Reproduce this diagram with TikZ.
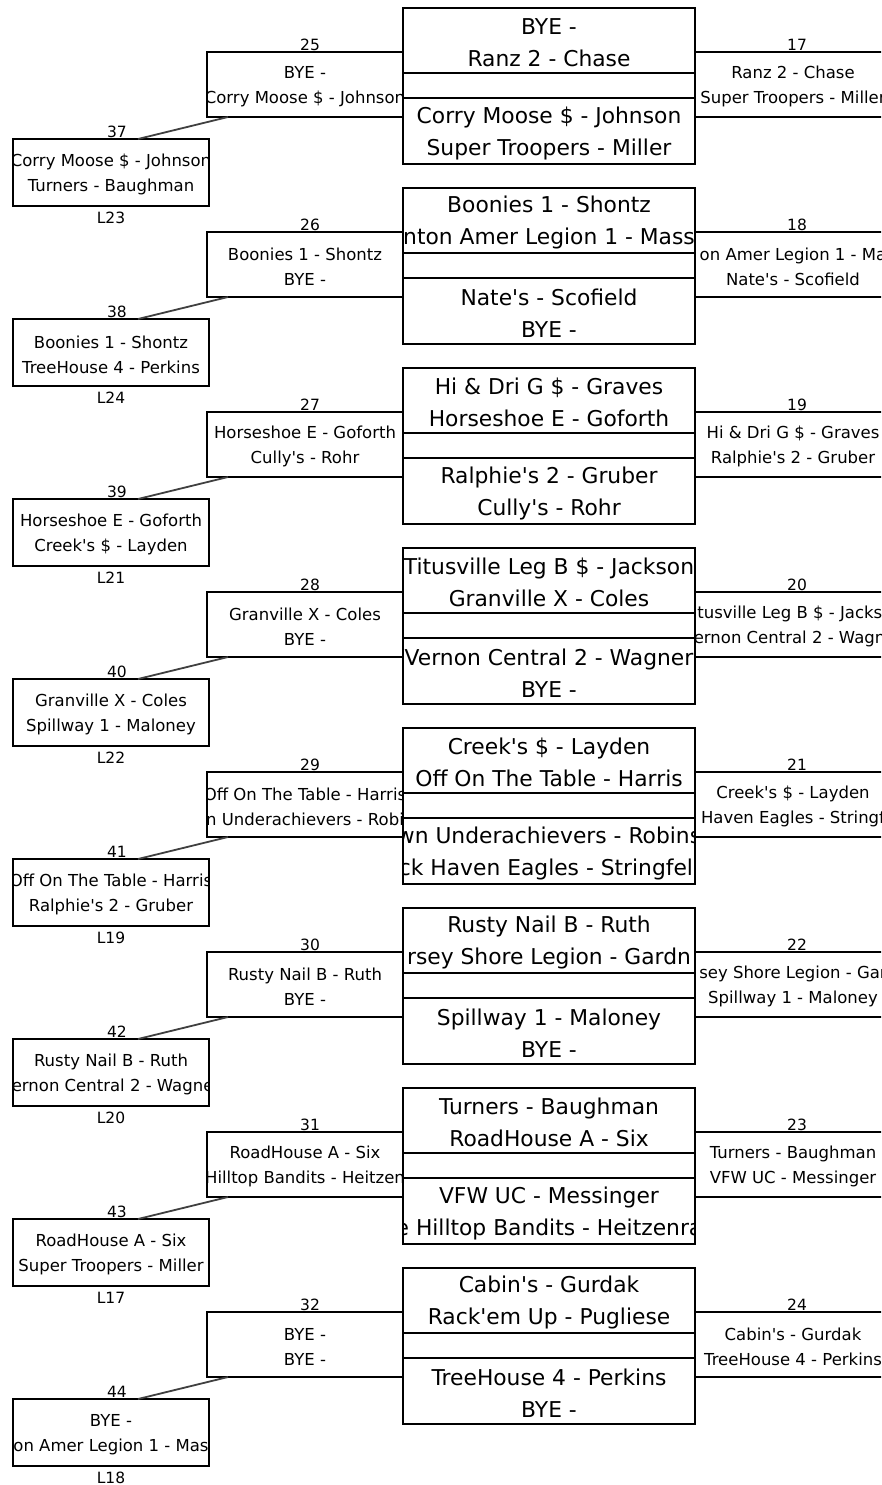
\documentclass[tikz,border=0pt]{standalone}
\usepackage{fontspec}
\setmainfont{DejaVu Sans}[Ligatures=TeXOff]
\usetikzlibrary{positioning}
\begin{document}
\begin{tikzpicture}[x=1pt,y=-1pt,
	cadre/.style={draw,line width=2pt,inner sep=0pt,outer sep=0pt},
	grand/.style={cadre,minimum width=292pt,minimum height=65pt},
	petit/.style={cadre,minimum width=196pt,minimum height=65pt},
	gtexte/.style n args={3}{path picture={\node[font=\fontsize{21.8}{32}\selectfont,align=center,inner sep=0pt] (#1) at ([yshift=-2pt]path picture bounding box.center) {#2\\#3};}},
	ptexte/.style n args={3}{path picture={\node[font=\fontsize{16.5}{25}\selectfont,align=center,inner sep=0pt] (#1) at ([yshift=-2pt]path picture bounding box.center) {#2\\#3};}},
	num/.style={font=\fontsize{15.5}{17}\selectfont,inner sep=1pt},
	lien/.style={black!75,line width=1.8pt}]
	\useasboundingbox (0,0) rectangle (881,1485);
	\clip (0,0) rectangle (881,1485);
	% match 1
	\node[grand,gtexte={th1}{BYE -}{Ranz 2 - Chase}] (h1) at (549,40.5) {};
	\node[grand,minimum height=25pt] (m1) at (549,85.5) {};
	\node[grand,minimum height=66pt,gtexte={tb1}{Corry Moose \$ - Johnson}{Super Troopers - Miller}] (b1) at (549,131) {};
	\node[petit,ptexte={td1}{Ranz 2 - Chase}{Super Troopers - Miller}] (d1) at (793,84.5) {};
	\node[petit,ptexte={tg1}{BYE -}{Corry Moose \$ - Johnson}] (g1) at (305,84.5) {};
	\node[petit,minimum height=67pt,ptexte={tp1}{Corry Moose \$ - Johnson}{Turners - Baughman}] (p1) at (111,172.5) {};
	% match 2
	\begin{scope}[yshift=-180pt]
	\node[grand,gtexte={th2}{Boonies 1 - Shontz}{nton Amer Legion 1 - Mass}] (h2) at (549,40.5) {};
	\node[grand,minimum height=25pt] (m2) at (549,85.5) {};
	\node[grand,minimum height=66pt,gtexte={tb2}{Nate's - Scofield}{BYE -}] (b2) at (549,131) {};
	\node[petit,ptexte={td2}{on Amer Legion 1 - Ma}{Nate's - Scofield}] (d2) at (793,84.5) {};
	\node[petit,ptexte={tg2}{Boonies 1 - Shontz}{BYE -}] (g2) at (305,84.5) {};
	\node[petit,minimum height=67pt,ptexte={tp2}{Boonies 1 - Shontz}{TreeHouse 4 - Perkins}] (p2) at (111,172.5) {};
	\end{scope}
	% match 3
	\begin{scope}[yshift=-360pt]
	\node[grand,gtexte={th3}{Hi \& Dri G \$ - Graves}{Horseshoe E - Goforth}] (h3) at (549,40.5) {};
	\node[grand,minimum height=25pt] (m3) at (549,85.5) {};
	\node[grand,minimum height=66pt,gtexte={tb3}{Ralphie's 2 - Gruber}{Cully's - Rohr}] (b3) at (549,131) {};
	\node[petit,ptexte={td3}{Hi \& Dri G \$ - Graves}{Ralphie's 2 - Gruber}] (d3) at (793,84.5) {};
	\node[petit,ptexte={tg3}{Horseshoe E - Goforth}{Cully's - Rohr}] (g3) at (305,84.5) {};
	\node[petit,minimum height=67pt,ptexte={tp3}{Horseshoe E - Goforth}{Creek's \$ - Layden}] (p3) at (111,172.5) {};
	\end{scope}
	% match 4
	\begin{scope}[yshift=-540pt]
	\node[grand,gtexte={th4}{Titusville Leg B \$ - Jackson}{Granville X - Coles}] (h4) at (549,40.5) {};
	\node[grand,minimum height=25pt] (m4) at (549,85.5) {};
	\node[grand,minimum height=66pt,gtexte={tb4}{Vernon Central 2 - Wagner}{BYE -}] (b4) at (549,131) {};
	\node[petit,ptexte={td4}{Titusville Leg B \$ - Jackson}{Vernon Central 2 - Wagner}] (d4) at (793,84.5) {};
	\node[petit,ptexte={tg4}{Granville X - Coles}{BYE -}] (g4) at (305,84.5) {};
	\node[petit,minimum height=67pt,ptexte={tp4}{Granville X - Coles}{Spillway 1 - Maloney}] (p4) at (111,172.5) {};
	\end{scope}
	% match 5
	\begin{scope}[yshift=-720pt]
	\node[grand,gtexte={th5}{Creek's \$ - Layden}{Off On The Table - Harris}] (h5) at (549,40.5) {};
	\node[grand,minimum height=25pt] (m5) at (549,85.5) {};
	\node[grand,minimum height=66pt,gtexte={tb5}{wn Underachievers - Robins}{ck Haven Eagles - Stringfell}] (b5) at (549,131) {};
	\node[petit,ptexte={td5}{Creek's \$ - Layden}{Haven Eagles - Stringf}] (d5) at (793,84.5) {};
	\node[petit,ptexte={tg5}{Off On The Table - Harris}{n Underachievers - Robi}] (g5) at (305,84.5) {};
	\node[petit,minimum height=67pt,ptexte={tp5}{Off On The Table - Harris}{Ralphie's 2 - Gruber}] (p5) at (111,172.5) {};
	\end{scope}
	% match 6
	\begin{scope}[yshift=-900pt]
	\node[grand,gtexte={th6}{Rusty Nail B - Ruth}{rsey Shore Legion - Gardn}] (h6) at (549,40.5) {};
	\node[grand,minimum height=25pt] (m6) at (549,85.5) {};
	\node[grand,minimum height=66pt,gtexte={tb6}{Spillway 1 - Maloney}{BYE -}] (b6) at (549,131) {};
	\node[petit,ptexte={td6}{sey Shore Legion - Gar}{Spillway 1 - Maloney}] (d6) at (793,84.5) {};
	\node[petit,ptexte={tg6}{Rusty Nail B - Ruth}{BYE -}] (g6) at (305,84.5) {};
	\node[petit,minimum height=67pt,ptexte={tp6}{Rusty Nail B - Ruth}{Vernon Central 2 - Wagner}] (p6) at (111,172.5) {};
	\end{scope}
	% match 7
	\begin{scope}[yshift=-1080pt]
	\node[grand,gtexte={th7}{Turners - Baughman}{RoadHouse A - Six}] (h7) at (549,40.5) {};
	\node[grand,minimum height=25pt] (m7) at (549,85.5) {};
	\node[grand,minimum height=66pt,gtexte={tb7}{VFW UC - Messinger}{e Hilltop Bandits - Heitzenra}] (b7) at (549,131) {};
	\node[petit,ptexte={td7}{Turners - Baughman}{VFW UC - Messinger}] (d7) at (793,84.5) {};
	\node[petit,ptexte={tg7}{RoadHouse A - Six}{Hilltop Bandits - Heitzen}] (g7) at (305,84.5) {};
	\node[petit,minimum height=67pt,ptexte={tp7}{RoadHouse A - Six}{Super Troopers - Miller}] (p7) at (111,172.5) {};
	\end{scope}
	% match 8
	\begin{scope}[yshift=-1260pt]
	\node[grand,gtexte={th8}{Cabin's - Gurdak}{Rack'em Up - Pugliese}] (h8) at (549,40.5) {};
	\node[grand,minimum height=25pt] (m8) at (549,85.5) {};
	\node[grand,minimum height=66pt,gtexte={tb8}{TreeHouse 4 - Perkins}{BYE -}] (b8) at (549,131) {};
	\node[petit,ptexte={td8}{Cabin's - Gurdak}{TreeHouse 4 - Perkins}] (d8) at (793,84.5) {};
	\node[petit,ptexte={tg8}{BYE -}{BYE -}] (g8) at (305,84.5) {};
	\node[petit,minimum height=67pt,ptexte={tp8}{BYE -}{on Amer Legion 1 - Mas}] (p8) at (111,172.5) {};
	\end{scope}
	% numeros et perdants
	\foreach \i/\L in {1/23,2/24,3/21,4/22,5/19,6/20,7/17,8/18}{
		\pgfmathtruncatemacro\numD{16+\i}
		\pgfmathtruncatemacro\numG{24+\i}
		\pgfmathtruncatemacro\numP{36+\i}
		\node[num,above] (nd\i) at ([xshift=4pt]d\i.north) {\numD};
		\node[num,above] (ng\i) at ([xshift=5pt]g\i.north) {\numG};
		\node[num,above] (np\i) at ([xshift=6pt]p\i.north) {\numP};
		\node[num,below=5pt of p\i] (lp\i) {L\L};
		\draw[lien] ([xshift=21pt]g\i.south west) -- ([xshift=27pt]p\i.north);
	}
\end{tikzpicture}
\end{document}
